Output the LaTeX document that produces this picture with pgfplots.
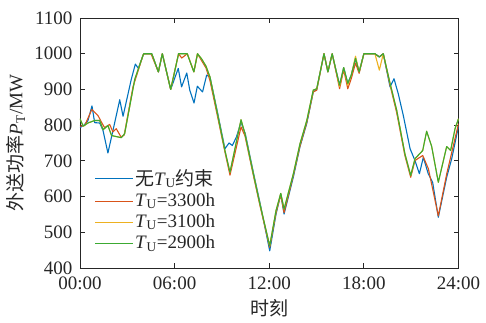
\documentclass[border=0pt]{standalone}
\usepackage{fontspec}
\setmainfont{Liberation Serif}
\newfontfamily\cjk{Noto Sans CJK SC}
\usepackage{pgfplots}
\pgfplotsset{compat=1.18}
\definecolor{cblue}{rgb}{0,0.447,0.741}
\definecolor{corange}{rgb}{0.850,0.325,0.098}
\definecolor{cyellow}{rgb}{0.929,0.694,0.125}
\definecolor{cgreen}{RGB}{60,170,50}
\definecolor{axgray}{RGB}{38,38,38}
\begin{document}
\fontsize{19}{22}\selectfont
\begin{tikzpicture}
\path[use as bounding box] (-80pt,-54pt) rectangle (406pt,268pt);
\begin{axis}[
  at={(0pt,0pt)}, anchor=south west,
  scale only axis, width=378.5pt, height=250pt,
  xmin=0, xmax=24, ymin=400, ymax=1100,
  xtick={0,6,12,18,24},
  xticklabels={00:00,06:00,12:00,18:00,24:00},
  ytick={400,500,600,700,800,900,1000,1100},
  /pgf/number format/1000 sep={},
  /pgf/number format/assume math mode=true,
  tick label style={font=\fontsize{19}{22}\selectfont, text=axgray},
  xticklabel style={yshift=-2pt},
  yticklabel style={xshift=-1pt},
  axis line style={line width=0.8pt, draw=axgray},
  every tick/.style={line width=0.8pt, draw=axgray},
  major tick length=5pt,
  xlabel={{\cjk 时刻}},
  ylabel={{\cjk 外送功率}\textit{P}\textsubscript{T}/MW},
  every axis x label/.style={at={(axis description cs:0.5,-0.16)}, anchor=center, font=\fontsize{19}{22}\selectfont, text=axgray},
  every axis y label/.style={at={(axis description cs:-0.17,0.5)}, rotate=90, anchor=center, font=\fontsize{19}{22}\selectfont, text=axgray},
  legend cell align=left,
  legend image code/.code={\draw[#1, line width=1pt] (0pt,0pt) -- (38pt,0pt);},
  legend style={draw=none, fill=none, at={(axis description cs:0.03,0.41)}, anchor=north west,
    font=\fontsize{19}{22}\selectfont, text=axgray, row sep=2pt,
    nodes={inner sep=1.5pt}},
  line join=round,
]
\addplot[cblue, line width=1.1pt] coordinates {
(0,793) (0.25,800) (0.5,812) (0.76,854) (0.93,807) (1.25,806) (1.46,785) (1.77,722) (2.09,785) (2.52,871) (2.73,825) (3.25,928) (3.51,971) (3.7,959) (4.0,996) (4.05,1000) (4.55,1000) (4.97,949) (5.22,1000) (5.75,900) (6.23,959) (6.44,907) (6.77,946) (6.96,898) (7.23,862) (7.44,909) (7.77,893) (8.03,940) (8.24,935) (8.7,840) (9.19,734) (9.45,750) (9.66,743) (9.92,767) (10.21,808) (10.48,776) (11.01,664) (11.43,579) (12.03,448) (12.43,551) (12.73,607) (12.94,551) (13.53,655) (13.95,740) (14.38,805) (14.79,893) (15.01,900) (15.47,1000) (15.72,949) (15.99,1000) (16.23,954) (16.46,912) (16.72,961) (16.98,917) (17.2,940) (17.47,987) (17.7,949) (18.0,1000) (18.7,1000) (18.98,991) (19.23,1000) (19.66,907) (19.91,930) (20.18,888) (20.5,827) (20.93,734) (21.24,701) (21.52,664) (21.77,710) (22.08,664) (22.36,640) (22.72,542) (23.25,654) (23.57,706) (24.0,797)
};
\addlegendentry{{\cjk 无}\textit{T}\textsubscript{U}{\cjk 约束}}
\addplot[corange, line width=1.1pt] coordinates {
(0,797) (0.3,799) (0.75,844) (1.14,827) (1.35,809) (1.56,793) (1.88,802) (2.09,781) (2.3,790) (2.6,767) (2.8,772) (3.36,907) (4.0,996) (4.05,1000) (4.5,1000) (4.97,949) (5.22,1000) (5.75,900) (6.25,1000) (6.45,988) (6.6,993) (6.8,1000) (7.22,949) (7.45,1000) (7.72,980) (7.99,960) (8.24,925) (8.67,835) (9.19,725) (9.51,660) (10.21,795) (10.46,770) (10.99,660) (11.41,575) (12.03,458) (12.43,555) (12.73,605) (12.94,555) (13.53,660) (13.95,742) (14.38,808) (14.79,893) (15.01,898) (15.47,1000) (15.72,949) (15.99,1000) (16.23,950) (16.46,902) (16.72,955) (16.98,902) (17.2,930) (17.47,974) (17.7,945) (18.0,1000) (18.7,1000) (18.98,991) (19.23,1000) (19.66,912) (20.08,835) (20.6,715) (20.97,654) (21.24,701) (21.73,715) (22.09,678) (22.72,546) (23.25,663) (24.0,804)
};
\addlegendentry{\textit{T}\textsubscript{U}=3300h}
\addplot[cyellow, line width=1.1pt] coordinates {
(0,818) (0.2,797) (0.5,806) (0.93,813) (1.25,813) (1.46,787) (1.77,799) (2.0,771) (2.3,768) (2.62,765) (2.83,776) (3.47,928) (4.0,996) (4.05,1000) (4.55,1000) (4.97,949) (5.22,1000) (5.75,900) (6.25,1000) (6.8,1000) (7.22,949) (7.45,1000) (7.72,985) (7.99,965) (8.24,935) (8.67,842) (9.19,729) (9.51,668) (10.21,815) (10.46,776) (10.99,664) (11.41,579) (12.03,462) (12.43,561) (12.73,609) (12.94,565) (13.53,664) (13.95,748) (14.38,813) (14.79,898) (15.01,902) (15.47,1000) (15.72,949) (15.99,1000) (16.23,954) (16.46,908) (16.72,961) (16.98,912) (17.2,940) (17.47,993) (17.7,949) (18.0,1000) (18.7,1000) (18.98,954) (19.23,1000) (19.66,917) (20.08,842) (20.6,720) (20.97,659) (21.24,706) (21.73,729) (21.98,783) (22.3,740) (22.72,640) (23.25,740) (23.5,729) (23.78,790) (24.0,818)
};
\addlegendentry{\textit{T}\textsubscript{U}=3100h}
\addplot[cgreen, line width=1.1pt] coordinates {
(0,818) (0.2,797) (0.5,806) (0.93,813) (1.25,813) (1.46,787) (1.77,799) (2.0,771) (2.3,768) (2.62,765) (2.83,776) (3.47,928) (4.0,996) (4.05,1000) (4.55,1000) (4.97,949) (5.22,1000) (5.75,900) (6.25,1000) (6.8,1000) (7.22,949) (7.45,1000) (7.72,985) (7.99,965) (8.24,935) (8.67,842) (9.19,729) (9.51,668) (10.21,815) (10.46,776) (10.99,664) (11.41,579) (12.03,462) (12.43,561) (12.73,609) (12.94,565) (13.53,664) (13.95,748) (14.38,813) (14.79,898) (15.01,902) (15.47,1000) (15.72,949) (15.99,1000) (16.23,954) (16.46,912) (16.72,961) (16.98,917) (17.2,940) (17.47,987) (17.7,949) (18.0,1000) (18.7,1000) (18.98,991) (19.23,1000) (19.66,917) (20.08,842) (20.6,720) (20.97,659) (21.24,706) (21.73,729) (21.98,783) (22.3,740) (22.72,640) (23.25,740) (23.5,729) (23.78,790) (24.0,818)
};
\addlegendentry{\textit{T}\textsubscript{U}=2900h}
\end{axis}
\end{tikzpicture}
\end{document}
